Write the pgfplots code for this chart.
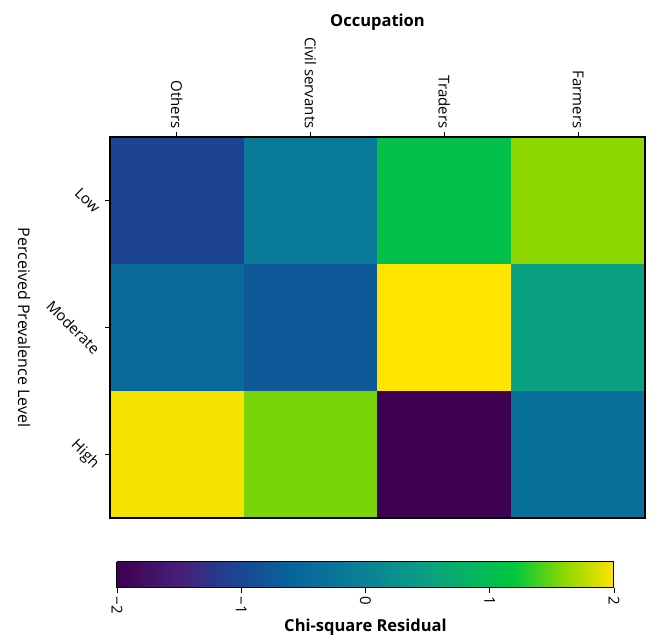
\documentclass[border=0pt]{standalone}
\usepackage{fontspec}
\setmainfont{Open Sans}
\usepackage{graphicx}
\usepackage{pgfplots}
\pgfplotsset{compat=1.18}
\pgfplotsset{colormap={resid}{rgb255(0cm)=(62,0,82) rgb255(1cm)=(72,30,120) rgb255(1.8cm)=(30,65,145) rgb255(2.8cm)=(8,100,155) rgb255(4cm)=(10,130,150) rgb255(5cm)=(10,160,130) rgb255(6.4cm)=(0,200,60) rgb255(7.2cm)=(140,215,0) rgb255(8cm)=(255,228,0)}}
\begin{document}
\begin{tikzpicture}
\begin{axis}[
  scale only axis, width=535pt, height=381pt,
  xmin=-0.5, xmax=3.5, ymin=-0.5, ymax=2.5, y dir=reverse,
  enlargelimits=false, axis on top,
  colormap name=resid,
  xtick={0,1,2,3},
  xticklabels={\rotatebox{-90}{Others},\rotatebox{-90}{Civil servants},\rotatebox{-90}{Traders},\rotatebox{-90}{Farmers}},
  ytick={0,1,2},
  yticklabels={\rotatebox{-45}{Low},\rotatebox{-45}{Moderate},\rotatebox{-45}{High}},
  xtick pos=right, xticklabel pos=right, ytick pos=left,
  tick align=outside, major tick length=5pt,
  tick style={black, line width=0.8pt},
  ticklabel style={font=\fontsize{15}{17}\selectfont},
  xlabel={\bfseries Occupation},
  ylabel={Perceived Prevalence Level},
  xlabel style={font=\fontsize{16.5}{18}\selectfont},
  ylabel style={font=\fontsize{16}{18}\selectfont, rotate=180, yshift=-8pt},
  axis line style={line width=1.5pt},
  point meta min=-2, point meta max=2,
]
\addplot[matrix plot*, mesh/cols=4, point meta=explicit] table[meta=v] {
x y v
0 0 -1.05
1 0 -0.16
2 0 1.06
3 0 1.6
0 1 -0.5
1 1 -0.75
2 1 2.0
3 1 0.5
0 2 1.97
1 2 1.55
2 2 -2.0
3 2 -0.35
};
\end{axis}
\begin{axis}[
  at={(7pt,-44pt)}, anchor=north west,
  scale only axis, width=497pt, height=26pt,
  xmin=-2, xmax=2, ymin=0, ymax=1,
  enlargelimits=false, axis on top,
  view={0}{90},
  colormap name=resid,
  point meta min=-2, point meta max=2,
  ytick=\empty,
  xtick={-2,-1,0,1,2},
  xticklabels={\rotatebox{-90}{−2},\rotatebox{-90}{−1},\rotatebox{-90}{0},\rotatebox{-90}{1},\rotatebox{-90}{2}},
  xtick pos=left, xticklabel pos=left,
  tick align=outside, major tick length=5pt,
  tick style={black, line width=0.8pt},
  ticklabel style={font=\fontsize{15}{17}\selectfont},
  xlabel={\bfseries Chi-square Residual},
  xlabel style={font=\fontsize{16.5}{18}\selectfont, yshift=2pt},
  axis line style={line width=1pt},
]
\addplot3[surf, shader=interp, mesh/cols=9, point meta=explicit] table[meta=c] {
x y z c
-2 0 0 -2
-1.5 0 0 -1.5
-1.1 0 0 -1.1
-0.6 0 0 -0.6
0 0 0 0
0.5 0 0 0.5
1.2 0 0 1.2
1.6 0 0 1.6
2 0 0 2
-2 1 0 -2
-1.5 1 0 -1.5
-1.1 1 0 -1.1
-0.6 1 0 -0.6
0 1 0 0
0.5 1 0 0.5
1.2 1 0 1.2
1.6 1 0 1.6
2 1 0 2
};
\end{axis}
\path (-110pt,-120pt) rectangle (547pt,518pt);
\end{tikzpicture}
\end{document}
